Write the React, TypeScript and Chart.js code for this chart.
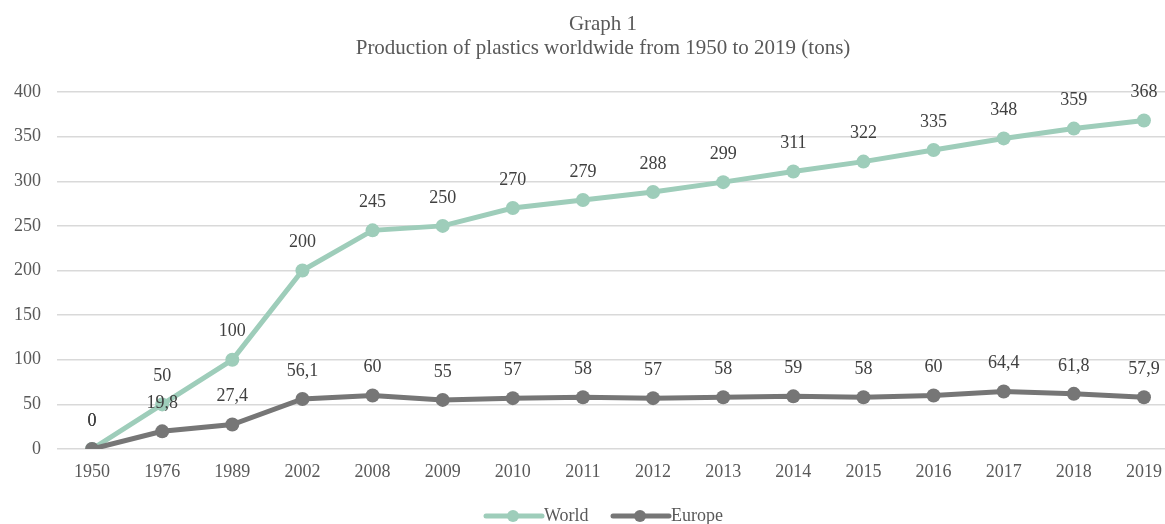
import React, { useEffect, useRef } from "react";
import { Chart, registerables } from "chart.js";

Chart.register(...registerables);

const categories = ["1950", "1976", "1989", "2002", "2008", "2009", "2010", "2011", "2012", "2013", "2014", "2015", "2016", "2017", "2018", "2019"];
const worldValues = [0, 50, 100, 200, 245, 250, 270, 279, 288, 299, 311, 322, 335, 348, 359, 368];
const europeValues = [0, 19.8, 27.4, 56.1, 60, 55, 57, 58, 57, 58, 59, 58, 60, 64.4, 61.8, 57.9];
const titleLines = ["Graph 1", "Production of plastics worldwide from 1950 to 2019 (tons)"];
const seriesNames = ["World", "Europe"];

const WORLD_COLOR = "#9ECDBA";
const EUROPE_COLOR = "#767676";
const FONT = "'Liberation Serif', 'Times New Roman', serif";
const W = 1204;
const H = 530;

const fmt = (v: number) => String(v).replace(".", ",");

const decorPlugin = {
  id: "decor",
  afterDatasetsDraw(chart: any) {
    const ctx = chart.ctx;
    ctx.save();
    ctx.font = `18px ${FONT}`;
    ctx.fillStyle = "#404040";
    ctx.textAlign = "center";
    ctx.textBaseline = "middle";
    chart.data.datasets.forEach((ds: any, di: number) => {
      const meta = chart.getDatasetMeta(di);
      meta.data.forEach((pt: any, i: number) => {
        ctx.fillText(fmt(ds.data[i]), pt.x, pt.y - 28);
      });
    });
    ctx.restore();
  },
  afterDraw(chart: any) {
    const ctx = chart.ctx;
    ctx.save();
    ctx.fillStyle = "#595959";
    ctx.textAlign = "center";
    ctx.textBaseline = "middle";
    ctx.font = `21px ${FONT}`;
    ctx.fillText(titleLines[0], 603, 24);
    ctx.fillText(titleLines[1], 603, 48);
    // legend
    const items = [
      { name: seriesNames[0], color: WORLD_COLOR, x: 486 },
      { name: seriesNames[1], color: EUROPE_COLOR, x: 613 },
    ];
    const y = 516;
    ctx.font = `18px ${FONT}`;
    ctx.textAlign = "left";
    items.forEach((it) => {
      ctx.strokeStyle = it.color;
      ctx.lineWidth = 5;
      ctx.lineCap = "round";
      ctx.beginPath();
      ctx.moveTo(it.x, y);
      ctx.lineTo(it.x + 56, y);
      ctx.stroke();
      ctx.fillStyle = it.color;
      ctx.beginPath();
      ctx.arc(it.x + 27, y, 6, 0, Math.PI * 2);
      ctx.fill();
      ctx.fillStyle = "#595959";
      ctx.fillText(it.name, it.x + 58, y);
    });
    ctx.restore();
  },
};

export default function App() {
  const ref = useRef<HTMLCanvasElement>(null);
  useEffect(() => {
    if (!ref.current) return;
    const chart = new Chart(ref.current, {
      type: "line",
      data: {
        labels: categories,
        datasets: [
          {
            label: seriesNames[0],
            data: worldValues,
            borderColor: WORLD_COLOR,
            backgroundColor: WORLD_COLOR,
            borderWidth: 5,
            pointRadius: 7,
            pointHoverRadius: 7,
            pointBorderWidth: 0,
            tension: 0,
            order: 1,
          },
          {
            label: seriesNames[1],
            data: europeValues,
            borderColor: EUROPE_COLOR,
            backgroundColor: EUROPE_COLOR,
            borderWidth: 5,
            pointRadius: 7,
            pointHoverRadius: 7,
            pointBorderWidth: 0,
            tension: 0,
            order: 0,
          },
        ],
      },
      options: {
        responsive: false,
        animation: false,
        layout: { padding: { top: 92, right: 25, left: 0, bottom: 0 } },
        plugins: {
          legend: { display: false },
          title: { display: false },
          tooltip: { enabled: false },
        },
        scales: {
          x: {
            offset: true,
            grid: { display: false, drawTicks: false },
            border: { display: false },
            ticks: { color: "#595959", font: { family: FONT, size: 18 }, padding: 12, maxRotation: 0, autoSkip: false },
            afterFit: (s: any) => { s.height = 81; },
          },
          y: {
            min: 0,
            max: 400,
            grid: { color: "#D9D9D9", lineWidth: 1.5, drawTicks: false },
            border: { display: false },
            ticks: { stepSize: 50, color: "#595959", font: { family: FONT, size: 18 }, padding: 16 },
            afterFit: (s: any) => { s.width = 57; },
          },
        },
      },
      plugins: [decorPlugin],
    });
    return () => chart.destroy();
  }, []);
  return (
    <div style={{ position: "fixed", left: 0, top: 0, width: W, height: H, background: "#fff" }}>
      <canvas ref={ref} width={W} height={H} style={{ display: "block" }} />
    </div>
  );
}
